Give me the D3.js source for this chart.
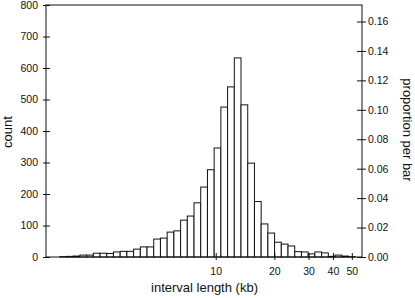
<!DOCTYPE html>
<html>
<head>
<meta charset="utf-8">
<script src="https://cdn.jsdelivr.net/npm/d3@7"></script>
<style>
    body { margin: 0; background: #fff; }
    text { font-family: "Liberation Sans", Arial, sans-serif; fill: #111; }
</style>
</head>
<body>
<div class="content"></div>
<script>
// histogram bins are equal width on a log10 axis
var binLogStart = 0.199;
var binLogWidth = 0.03448;
var counts = [1, 2, 3, 6, 6, 12, 12, 11, 16, 18, 18, 25, 32, 32, 57, 60, 79, 83, 117, 130,
    172, 222, 277, 346, 476, 540, 632, 483, 298, 176, 105, 76, 47, 41, 35, 17, 16, 10, 16, 13,
    2, 6, 3, 1];
var xTicks = [10, 20, 30, 40, 50];
var countTicks = [0, 100, 200, 300, 400, 500, 600, 700, 800];
var propTicks = [0, 0.02, 0.04, 0.06, 0.08, 0.10, 0.12, 0.14, 0.16];
var xDomain = [1.344, 56.4];
var countMax = 800;
var propMax = 0.1712;

var chart = {
    width: 415,
    height: 298,
    left: 46,
    right: 362,
    top: 5,
    bottom: 257
};

chart.svg = d3.select('.content').append('svg')
    .attr('width', chart.width)
    .attr('height', chart.height);

chart.x = d3.scaleLog().domain(xDomain).range([chart.left, chart.right]);
chart.y = d3.scaleLinear().domain([0, countMax]).range([chart.bottom, chart.top]);
chart.y2 = d3.scaleLinear().domain([0, propMax]).range([chart.bottom, chart.top]);

var bins = counts.map(function(c, i) {
    return {
        x0: Math.pow(10, binLogStart + i * binLogWidth),
        x1: Math.pow(10, binLogStart + (i + 1) * binLogWidth),
        count: c
    };
});

chart.svg.append('g').selectAll('rect')
    .data(bins)
    .enter().append('rect')
    .attr('x', function(d) { return chart.x(d.x0); })
    .attr('y', function(d) { return chart.y(d.count); })
    .attr('width', function(d) { return chart.x(d.x1) - chart.x(d.x0); })
    .attr('height', function(d) { return chart.y(0) - chart.y(d.count); })
    .style('fill', '#fff')
    .style('stroke', '#111')
    .style('stroke-width', '1px');

// frame
chart.svg.append('rect')
    .attr('x', chart.left)
    .attr('y', chart.top)
    .attr('width', chart.right - chart.left)
    .attr('height', chart.bottom - chart.top)
    .style('fill', 'none')
    .style('stroke', '#111')
    .style('stroke-width', '1px');

function styleAxis(g) {
    g.select('.domain').remove();
    g.selectAll('line').style('stroke', '#111');
    g.selectAll('text').style('font-size', '10.5px')
        .style('font-family', '"Liberation Sans", Arial, sans-serif')
        .attr('fill', '#111');
}

var left = chart.svg.append('g')
    .attr('transform', 'translate(' + chart.left + ',0)')
    .call(d3.axisLeft(chart.y).tickValues(countTicks).tickSize(3).tickPadding(5));
left.selectAll('line').attr('x2', -3).attr('x1', 4);
styleAxis(left);

var right = chart.svg.append('g')
    .attr('transform', 'translate(' + chart.right + ',0)')
    .call(d3.axisRight(chart.y2).tickValues(propTicks).tickFormat(d3.format('.2f')).tickSize(4).tickPadding(2));
right.selectAll('line').attr('x1', -5).attr('x2', 4);
styleAxis(right);

var bottom = chart.svg.append('g')
    .attr('transform', 'translate(0,' + chart.bottom + ')')
    .call(d3.axisBottom(chart.x).tickValues(xTicks).tickFormat(d3.format('d')).tickSize(4).tickPadding(7));
bottom.selectAll('line').attr('y1', -4).attr('y2', 3);
styleAxis(bottom);

chart.svg.append('text')
    .attr('transform', 'translate(12,132) rotate(-90)')
    .attr('text-anchor', 'middle')
    .style('font-size', '13px')
    .text('count');

chart.svg.append('text')
    .attr('transform', 'translate(403,130) rotate(90)')
    .attr('text-anchor', 'middle')
    .style('font-size', '13px')
    .text('proportion per bar');

chart.svg.append('text')
    .attr('x', 204.5)
    .attr('y', 292)
    .attr('text-anchor', 'middle')
    .style('font-size', '13px')
    .text('interval length (kb)');
</script>
</body>
</html>
